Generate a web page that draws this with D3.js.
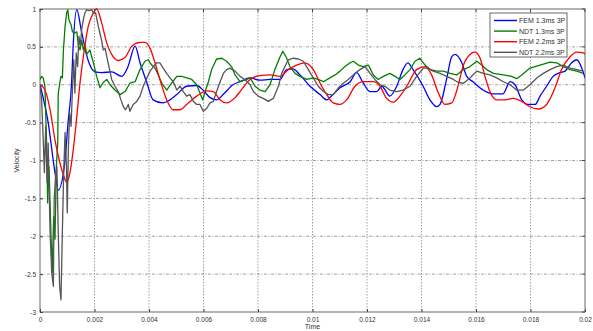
<!DOCTYPE html>
<html>
<head>
<meta charset="utf-8">
<script src="https://cdn.jsdelivr.net/npm/d3@7"></script>
<style>
body { margin: 0; background: #fff; }
svg text { font-family: "Liberation Sans", Arial, sans-serif; fill: #333; }
</style>
</head>
<body>
<div id="chart"></div>
<script>
// time in ms, velocity
const fem13 = [[0,0],[0.30,-0.50],[0.55,-1.16],[0.67,-1.39],[0.92,-0.99],[1.03,-0.50],[1.16,0.03],[1.21,0.46],[1.35,0.99],[1.53,0.69],[1.76,0.33],[2.02,0.17],[2.26,0.16],[2.63,0.17],[3.00,0.11],[3.23,0.24],[3.49,0.51],[3.67,0.29],[3.92,0.03],[4.15,-0.20],[4.51,-0.24],[4.77,-0.20],[5.02,-0.13],[5.38,-0.02],[5.75,-0.01],[5.98,-0.07],[6.24,-0.17],[6.48,-0.20],[6.72,-0.13],[7.08,0],[7.34,0.04],[7.71,0.09],[8.07,0.06],[8.44,0.07],[8.81,0.07],[9.05,0.20],[9.28,0.21],[9.54,0.13],[9.91,-0.02],[10.28,-0.13],[10.52,-0.20],[10.75,-0.13],[11.01,-0.04],[11.38,0.04],[11.62,0.16],[11.85,0.03],[12.11,-0.09],[12.36,-0.09],[12.54,-0.02],[12.84,-0.15],[13.09,-0.02],[13.32,0.20],[13.50,0.29],[13.69,0.20],[14.06,-0.02],[14.31,-0.20],[14.56,-0.29],[14.68,-0.26],[14.92,0.07],[15.11,0.37],[15.23,0.40],[15.48,0.29],[15.66,0.11],[15.89,0.04],[16.26,-0.07],[16.62,-0.12],[16.99,-0.12],[17.25,0.04],[17.43,0],[17.68,-0.20],[17.91,-0.26],[18.17,-0.26],[18.35,-0.15],[18.59,-0.02],[18.83,0.11],[19.08,0.16],[19.27,0.18],[19.51,0.29],[19.70,0.33],[19.88,0.22],[20.0,0.09]];

const ndt13 = [[0,0.07],[0.06,0.11],[0.12,0.09],[0.18,-0.02],[0.25,-0.86],[0.28,-1.56],[0.33,-1.08],[0.40,-1.95],[0.45,-2.48],[0.50,-1.74],[0.55,-2.04],[0.60,-1.08],[0.65,-0.77],[0.67,-0.11],[0.73,0.03],[0.77,0.11],[0.82,0.09],[0.86,0.46],[0.92,0.77],[0.98,0.95],[1.02,0.99],[1.06,0.86],[1.14,0.79],[1.19,0.70],[1.26,0.68],[1.35,0.70],[1.41,0.51],[1.47,0.46],[1.53,0.59],[1.59,0.46],[1.65,0.53],[1.71,0.40],[1.83,0.46],[1.96,0.29],[2.08,0.11],[2.20,-0.04],[2.32,0.03],[2.45,0.07],[2.57,0],[2.75,-0.07],[2.94,-0.13],[3.12,-0.09],[3.30,0.02],[3.49,0.04],[3.67,0.20],[3.85,0.31],[3.97,0.33],[4.10,0.26],[4.22,0.22],[4.34,0.13],[4.47,0.02],[4.65,-0.07],[4.83,0.02],[5.02,0.11],[5.20,0.11],[5.38,0.09],[5.57,0.07],[5.75,0],[5.87,-0.11],[5.97,-0.20],[6.06,-0.09],[6.18,0.04],[6.30,0.20],[6.48,0.34],[6.67,0.35],[6.85,0.31],[7.03,0.24],[7.16,0.13],[7.34,0.04],[7.52,0.06],[7.71,0.09],[7.89,-0.02],[8.07,-0.07],[8.26,-0.09],[8.44,0],[8.62,0.20],[8.81,0.37],[8.91,0.44],[9.03,0.37],[9.17,0.24],[9.36,0.15],[9.54,0.11],[9.79,0.07],[10.03,0.09],[10.21,0.07],[10.40,0.04],[10.64,0.09],[10.83,0.13],[11.01,0.18],[11.19,0.24],[11.38,0.29],[11.50,0.31],[11.68,0.26],[11.86,0.24],[12.05,0.26],[12.23,0.13],[12.41,0.07],[12.60,0.11],[12.84,0.15],[13.03,0.11],[13.21,0.07],[13.39,0.13],[13.58,0.20],[13.76,0.31],[13.94,0.35],[14.13,0.26],[14.31,0.20],[14.56,0.18],[14.80,0.18],[15.05,0.15],[15.29,0.13],[15.54,0.20],[15.78,0.24],[16.03,0.31],[16.21,0.26],[16.39,0.20],[16.64,0.15],[17.00,0.13],[17.31,0.11],[17.49,0.08],[17.68,0.13],[17.98,0.22],[18.35,0.26],[18.72,0.30],[18.96,0.29],[19.20,0.24],[19.45,0.20],[19.70,0.18],[19.94,0.15]];

const fem22 = [[0,0],[0.18,-0.07],[0.37,-0.33],[0.55,-0.73],[0.73,-1.03],[0.92,-1.25],[0.98,-1.29],[1.10,-1.16],[1.22,-0.86],[1.35,-0.42],[1.47,0.03],[1.59,0.37],[1.77,0.77],[1.96,0.95],[2.08,1.0],[2.26,0.82],[2.45,0.55],[2.63,0.40],[2.87,0.32],[3.12,0.36],[3.37,0.51],[3.67,0.56],[3.85,0.56],[4.04,0.48],[4.22,0.29],[4.40,0.07],[4.65,-0.20],[4.89,-0.33],[5.14,-0.33],[5.38,-0.26],[5.75,-0.15],[6.12,-0.08],[6.36,-0.09],[6.61,-0.20],[6.85,-0.24],[7.16,-0.17],[7.34,-0.09],[7.71,0.07],[8.07,0.12],[8.44,0.13],[8.81,0.11],[9.11,0.20],[9.42,0.26],[9.72,0.29],[10.03,0.20],[10.28,0.02],[10.52,-0.13],[10.76,-0.24],[11.01,-0.26],[11.25,-0.20],[11.56,-0.02],[11.86,0.04],[12.23,0.04],[12.48,-0.02],[12.72,-0.18],[12.97,-0.23],[13.21,-0.15],[13.46,-0.02],[13.82,0.20],[14.13,0.24],[14.37,0.13],[14.62,-0.11],[14.86,-0.26],[15.11,-0.24],[15.30,-0.07],[15.54,0.26],[15.78,0.40],[15.96,0.43],[16.15,0.35],[16.33,0.11],[16.51,-0.09],[16.76,-0.20],[17.06,-0.20],[17.37,-0.18],[17.68,-0.22],[17.98,-0.29],[18.29,-0.32],[18.59,-0.26],[18.90,-0.04],[19.14,0.20],[19.45,0.37],[19.70,0.43],[19.94,0.42],[20.0,0.40]];

const ndt22 = [[0,0],[0.06,-0.20],[0.12,-0.73],[0.16,-1.16],[0.21,-0.55],[0.26,-1.29],[0.30,-0.77],[0.37,-1.95],[0.43,-2.48],[0.49,-2.66],[0.52,-1.52],[0.58,-1.16],[0.62,-1.08],[0.67,-1.95],[0.72,-2.66],[0.77,-2.84],[0.82,-1.95],[0.87,-1.16],[0.92,-0.63],[0.97,-1.08],[1.00,-1.69],[1.04,-0.86],[1.09,-0.37],[1.14,-0.55],[1.19,-0.07],[1.24,0.33],[1.28,-0.11],[1.33,0.42],[1.38,0.24],[1.43,0.64],[1.48,0.51],[1.53,0.73],[1.59,0.86],[1.65,0.95],[1.71,0.99],[1.80,0.98],[1.90,0.99],[1.97,0.94],[2.04,0.95],[2.14,0.77],[2.20,0.68],[2.26,0.59],[2.32,0.46],[2.39,0.48],[2.45,0.37],[2.53,0.24],[2.63,0.07],[2.75,-0.02],[2.87,-0.09],[2.97,-0.20],[3.06,-0.29],[3.14,-0.33],[3.24,-0.26],[3.30,-0.35],[3.42,-0.26],[3.55,-0.22],[3.67,-0.15],[3.79,-0.02],[3.92,0.09],[4.04,0.18],[4.16,0.24],[4.28,0.29],[4.40,0.29],[4.52,0.22],[4.65,0.15],[4.77,0.09],[4.89,0.04],[5.02,-0.07],[5.14,-0.02],[5.26,-0.09],[5.38,-0.15],[5.50,-0.13],[5.63,-0.22],[5.75,-0.26],[5.87,-0.26],[5.99,-0.35],[6.12,-0.31],[6.24,-0.24],[6.36,-0.22],[6.48,-0.09],[6.61,0.04],[6.73,0.15],[6.85,0.20],[6.97,0.22],[7.16,0.18],[7.34,0.11],[7.52,0.07],[7.71,0],[7.83,-0.09],[8.01,-0.15],[8.19,-0.18],[8.38,-0.22],[8.56,-0.18],[8.75,-0.02],[8.87,0.15],[8.99,0.24],[9.11,0.33],[9.30,0.35],[9.48,0.34],[9.66,0.31],[9.85,0.20],[10.03,0.09],[10.21,-0.02],[10.40,-0.09],[10.58,-0.13],[10.76,-0.13],[10.95,-0.04],[11.13,0.02],[11.31,0.07],[11.56,0.15],[11.74,0.20],[11.93,0.24],[12.11,0.15],[12.29,0.07],[12.48,0],[12.66,-0.02],[12.84,-0.07],[13.09,-0.09],[13.33,-0.07],[13.58,-0.02],[13.82,0.11],[14.07,0.22],[14.25,0.22],[14.43,0.18],[14.68,0.15],[14.92,0.11],[15.17,0.07],[15.35,0.03],[15.54,0.02],[15.78,0.09],[16.03,0.18],[16.27,0.15],[16.51,0.13],[16.76,0.09],[17.00,0.04],[17.25,0],[17.49,-0.07],[17.74,-0.07],[17.98,0],[18.23,0.09],[18.47,0.15],[18.72,0.20],[18.96,0.24],[19.20,0.26],[19.45,0.22],[19.70,0.20],[19.94,0.18]];

const seriesNames = ['FEM 1.3ms 3P', 'NDT 1.3ms 3P', 'FEM 2.2ms 3P', 'NDT 2.2ms 3P'];
const seriesColors = ['#0000ff', '#008000', '#ff0000', '#555555'];
const xTicks = [0, 2, 4, 6, 8, 10, 12, 14, 16, 18, 20];
const xTickLabels = ['0', '0.002', '0.004', '0.006', '0.008', '0.01', '0.012', '0.014', '0.016', '0.018', '0.02'];
const yTicks = [1, 0.5, 0, -0.5, -1, -1.5, -2, -2.5, -3];

const W = 593, H = 331;
const margin = { top: 9, right: 8, bottom: 19, left: 40 };
const width = W - margin.left - margin.right;
const height = H - margin.top - margin.bottom;

const svg = d3.select('#chart').append('svg')
  .attr('width', W)
  .attr('height', H);

const g = svg.append('g')
  .attr('transform', `translate(${margin.left},${margin.top})`);

const x = d3.scaleLinear().domain([0, 20]).range([0, width]);
const y = d3.scaleLinear().domain([-3, 1]).range([height, 0]);

// grid
g.append('g').selectAll('line')
  .data(xTicks.slice(1, -1))
  .enter().append('line')
  .attr('x1', d => x(d)).attr('x2', d => x(d))
  .attr('y1', 0).attr('y2', height)
  .attr('stroke', '#8a8a8a').attr('stroke-width', 0.8)
  .attr('stroke-dasharray', '1.5,1.5');
g.append('g').selectAll('line')
  .data(yTicks.slice(1, -1))
  .enter().append('line')
  .attr('x1', 0).attr('x2', width)
  .attr('y1', d => y(d)).attr('y2', d => y(d))
  .attr('stroke', '#8a8a8a').attr('stroke-width', 0.8)
  .attr('stroke-dasharray', '3,1.5,1,1.5');

// axes
const xAxis = g.append('g')
  .attr('transform', `translate(0,${height})`)
  .call(d3.axisBottom(x).tickValues(xTicks).tickSize(-3).tickPadding(5)
    .tickFormat((d, i) => xTickLabels[i]));
const yAxis = g.append('g')
  .call(d3.axisLeft(y).tickValues(yTicks).tickSize(-3).tickPadding(4)
    .tickFormat(d => d === 0 ? '0' : String(d)));
[xAxis, yAxis].forEach(a => {
  a.select('.domain').remove();
  a.selectAll('line').attr('stroke', '#444');
  a.selectAll('text').style('font-size', '6.5px').attr('fill', '#333');
});
// top & right ticks
g.append('g').selectAll('line').data(xTicks).enter().append('line')
  .attr('x1', d => x(d)).attr('x2', d => x(d)).attr('y1', 0).attr('y2', 3)
  .attr('stroke', '#444');
g.append('g').selectAll('line').data(yTicks).enter().append('line')
  .attr('x1', width - 3).attr('x2', width).attr('y1', d => y(d)).attr('y2', d => y(d))
  .attr('stroke', '#444');

// lines
const clip = svg.append('clipPath').attr('id', 'clip')
  .append('rect').attr('width', width).attr('height', height + 1).attr('y', -1);

const allData = [fem13, ndt13, fem22, ndt22];
const smooth = d3.line().x(d => x(d[0])).y(d => y(d[1])).curve(d3.curveMonotoneX);
const rough = d3.line().x(d => x(d[0])).y(d => y(d[1]));

const plot = g.append('g').attr('clip-path', 'url(#clip)');
allData.forEach((data, i) => {
  plot.append('path')
    .datum(data)
    .attr('fill', 'none')
    .attr('stroke', seriesColors[i])
    .attr('stroke-width', 1.3)
    .attr('stroke-linejoin', 'round')
    .attr('d', i % 2 === 0 ? smooth : rough);
});

// frame
g.append('rect')
  .attr('width', width).attr('height', height)
  .attr('fill', 'none').attr('stroke', '#444').attr('stroke-width', 0.8);

// labels
svg.append('text')
  .attr('x', margin.left + width / 2).attr('y', 329)
  .attr('text-anchor', 'middle')
  .style('font-size', '7px')
  .text('Time');
svg.append('text')
  .attr('transform', `translate(19,${margin.top + height / 2}) rotate(-90)`)
  .attr('text-anchor', 'middle')
  .style('font-size', '7px')
  .text('Velocity');

// legend
const legend = svg.append('g').attr('transform', 'translate(490,13)');
legend.append('rect')
  .attr('width', 77).attr('height', 44)
  .attr('fill', '#fff').attr('stroke', '#444').attr('stroke-width', 0.8);
seriesNames.forEach((name, i) => {
  const ly = 7.5 + i * 10.6;
  legend.append('line')
    .attr('x1', 4).attr('x2', 27).attr('y1', ly).attr('y2', ly)
    .attr('stroke', seriesColors[i]).attr('stroke-width', 1.4);
  legend.append('text')
    .attr('x', 29).attr('y', ly + 2.4)
    .style('font-size', '7px')
    .text(name);
});
</script>
</body>
</html>
